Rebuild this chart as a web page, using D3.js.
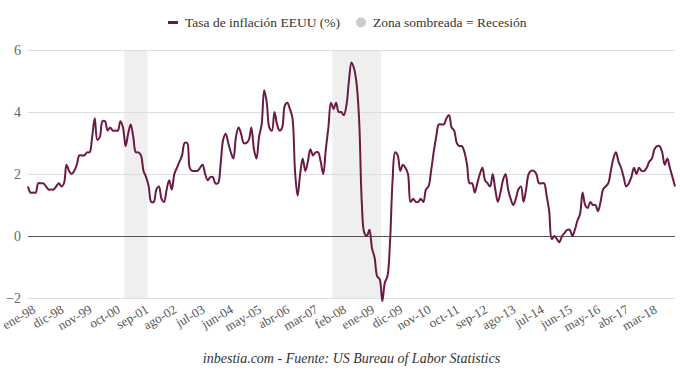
<!DOCTYPE html>
<html>
<head>
<meta charset="utf-8">
<script src="https://cdn.jsdelivr.net/npm/d3@7"></script>
<style>
  body { margin: 0; background: #fff; }
  svg { display: block; }
  svg text { font-family: "Liberation Serif", "Times New Roman", serif; }
</style>
</head>
<body>
<svg id="chart"></svg>
<script>
// monthly YoY CPI, one array per year (ene..dic)
let y1998 = [1.6, 1.4, 1.4, 1.4, 1.7, 1.7, 1.7, 1.6, 1.5, 1.5, 1.5, 1.6]
let y1999 = [1.7, 1.6, 1.7, 2.3, 2.1, 2.0, 2.1, 2.3, 2.6, 2.6, 2.6, 2.7]
let y2000 = [2.7, 3.2, 3.8, 3.1, 3.2, 3.7, 3.7, 3.4, 3.5, 3.4, 3.4, 3.4]
let y2001 = [3.7, 3.5, 2.9, 3.3, 3.6, 3.2, 2.7, 2.7, 2.6, 2.1, 1.9, 1.6]
let y2002 = [1.1, 1.1, 1.5, 1.6, 1.2, 1.1, 1.5, 1.8, 1.5, 2.0, 2.2, 2.4]
let y2003 = [2.6, 3.0, 3.0, 2.2, 2.1, 2.1, 2.1, 2.2, 2.3, 2.0, 1.8, 1.9]
let y2004 = [1.9, 1.7, 1.7, 2.3, 3.1, 3.3, 3.0, 2.7, 2.5, 3.2, 3.5, 3.3]
let y2005 = [3.0, 3.0, 3.1, 3.5, 2.8, 2.5, 3.2, 3.6, 4.7, 4.3, 3.5, 3.4]
let y2006 = [4.0, 3.6, 3.4, 3.5, 4.2, 4.3, 4.1, 3.8, 2.1, 1.3, 2.0, 2.5]
let y2007 = [2.1, 2.4, 2.8, 2.6, 2.7, 2.7, 2.4, 2.0, 2.8, 3.5, 4.3, 4.1]
let y2008 = [4.3, 4.0, 4.0, 3.9, 4.2, 5.0, 5.6, 5.4, 4.9, 3.7, 1.1, 0.1]
let y2009 = [0.0, 0.2, -0.4, -0.7, -1.3, -1.4, -2.1, -1.5, -1.3, -0.2, 1.8, 2.7]
let y2010 = [2.6, 2.1, 2.3, 2.2, 2.0, 1.1, 1.2, 1.1, 1.1, 1.2, 1.1, 1.5]
let y2011 = [1.6, 2.1, 2.7, 3.2, 3.6, 3.6, 3.6, 3.8, 3.9, 3.5, 3.4, 3.0]
let y2012 = [2.9, 2.9, 2.7, 2.3, 1.7, 1.7, 1.4, 1.7, 2.0, 2.2, 1.8, 1.7]
let y2013 = [1.6, 2.0, 1.5, 1.1, 1.4, 1.8, 2.0, 1.5, 1.2, 1.0, 1.2, 1.5]
let y2014 = [1.6, 1.1, 1.5, 2.0, 2.1, 2.1, 2.0, 1.7, 1.7, 1.7, 1.3, 0.8]
let y2015 = [-0.1, 0.0, -0.1, -0.2, 0.0, 0.1, 0.2, 0.2, 0.0, 0.2, 0.5, 0.7]
let y2016 = [1.4, 1.0, 0.9, 1.1, 1.0, 1.0, 0.8, 1.1, 1.5, 1.6, 1.7, 2.1]
let y2017 = [2.5, 2.7, 2.4, 2.2, 1.9, 1.6, 1.7, 1.9, 2.2, 2.0, 2.2, 2.1]
let y2018 = [2.1, 2.2, 2.4, 2.5, 2.8, 2.9, 2.9, 2.7, 2.3, 2.5, 2.2, 1.9]
let y2019 = [1.6]

let monthNames = ["ene", "feb", "mar", "abr", "may", "jun", "jul", "ago", "sep", "oct", "nov", "dic"]
let tickLabels = ["ene-98", "dic-98", "nov-99", "oct-00", "sep-01", "ago-02", "jul-03", "jun-04",
  "may-05", "abr-06", "mar-07", "feb-08", "ene-09", "dic-09", "nov-10", "oct-11", "sep-12",
  "ago-13", "jul-14", "jun-15", "may-16", "abr-17", "mar-18"]
let yTicks = [-2, 0, 2, 4, 6]
// recessions (NBER), first and last month
let recessions = [["mar-01", "nov-01"], ["dic-07", "jun-09"]]

let width = 680
let height = 370
let padLeft = 28
let padRight = 675
let padTop = 50
let padBottom = 298
let lineColor = "#6b1a45"
let fontFam = "'Liberation Serif', 'Times New Roman', serif"

let years = [y1998, y1999, y2000, y2001, y2002, y2003, y2004, y2005, y2006, y2007, y2008,
  y2009, y2010, y2011, y2012, y2013, y2014, y2015, y2016, y2017, y2018, y2019]

let values = []
years.forEach((arr, yi) => {
  let yy = String((1998 + yi) % 100).padStart(2, "0")
  arr.forEach((v, m) => {
    values.push({label: monthNames[m] + "-" + yy, value: v, i: values.length})
  })
})
let indexOf = (lab) => values.findIndex(d => d.label == lab)

let svg = d3.select("#chart")
  .attr("width", width)
  .attr("height", height)

let xScale = d3.scaleLinear()
  .domain([0, values.length - 1])
  .range([padLeft, padRight])

let yScale = d3.scaleLinear()
  .domain([-2, 6])
  .range([padBottom, padTop])

// shaded recession bands
svg.selectAll(".band")
  .data(recessions)
  .enter()
  .append("rect")
  .attr("class", "band")
  .attr("fill", "#efefef")
  .attr("x", d => xScale(indexOf(d[0]) - 0.5))
  .attr("width", d => xScale(indexOf(d[1]) + 0.5) - xScale(indexOf(d[0]) - 0.5))
  .attr("y", padTop)
  .attr("height", padBottom - padTop)

// y grid + labels
let yAxis = d3.axisLeft(yScale)
  .tickValues(yTicks)
  .tickSize(-(padRight - padLeft))
  .tickPadding(7)

let gy = svg.append("g")
  .attr("transform", "translate(" + padLeft + ",0)")
  .call(yAxis)
  .attr("font-family", fontFam)
gy.select(".domain").remove()
gy.selectAll("line")
  .attr("stroke", d => d == 0 ? "#555" : "#dedede")
  .attr("stroke-width", d => d == 0 ? 1.2 : 1)
gy.selectAll("text")
  .attr("fill", "#666")
  .style("font-size", "14px")

// x axis labels
let tickIdx = tickLabels.map(indexOf)
let xAxis = d3.axisBottom(xScale)
  .tickValues(tickIdx)
  .tickFormat((d, i) => tickLabels[i])
  .tickSize(0)

let gx = svg.append("g")
  .attr("transform", "translate(0," + padBottom + ")")
  .call(xAxis)
  .attr("font-family", fontFam)
gx.select(".domain").remove()
gx.selectAll("text")
  .attr("fill", "#555")
  .style("font-size", "13px")
  .attr("text-anchor", "end")
  .attr("dy", null)
  .attr("y", null)
  .attr("transform", "translate(8,14) rotate(-30)")

// the series
let line = d3.line()
  .x(d => xScale(d.i))
  .y(d => yScale(d.value))
  .curve(d3.curveCatmullRom.alpha(0.5))

svg.append("path")
  .datum(values)
  .attr("fill", "none")
  .attr("stroke", lineColor)
  .attr("stroke-width", 2)
  .attr("stroke-linejoin", "round")
  .attr("d", line)

// legend
let legend = svg.append("g")
legend.append("rect")
  .attr("x", 168).attr("y", 21)
  .attr("width", 10).attr("height", 3)
  .attr("fill", lineColor)
legend.append("text")
  .attr("x", 185).attr("y", 27)
  .attr("fill", "#333")
  .style("font-size", "13.5px")
  .text("Tasa de inflación EEUU (%)")
legend.append("circle")
  .attr("cx", 361).attr("cy", 22.5).attr("r", 5)
  .attr("fill", "#cccccc")
legend.append("text")
  .attr("x", 373).attr("y", 27)
  .attr("fill", "#333")
  .style("font-size", "13.5px")
  .text("Zona sombreada = Recesión")

// source
svg.append("text")
  .attr("x", (padLeft + padRight) / 2)
  .attr("y", 363)
  .attr("text-anchor", "middle")
  .attr("fill", "#333")
  .style("font-size", "14px")
  .style("font-style", "italic")
  .text("inbestia.com - Fuente: US Bureau of Labor Statistics")
</script>
</body>
</html>
